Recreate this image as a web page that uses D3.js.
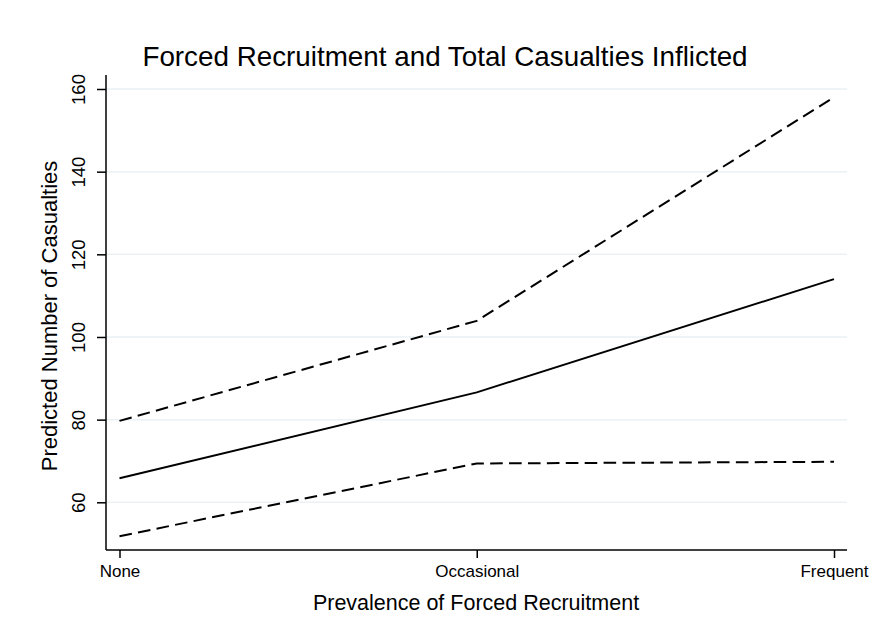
<!DOCTYPE html>
<html>
<head>
<meta charset="utf-8">
<script src="https://cdn.jsdelivr.net/npm/d3@7"></script>
<style>
  body { margin: 0; background: #fff; }
  svg { font-family: Arial, "Liberation Sans", sans-serif; }
</style>
</head>
<body>
<svg width="869" height="636"></svg>
<script>
var categories = ["None", "Occasional", "Frequent"];
var predicted = [65.8, 86.6, 114.0];
var upper = [79.7, 103.9, 158.0];
var lower = [51.8, 69.4, 69.8];
var yTicks = [60, 80, 100, 120, 140, 160];

var svg = d3.select("svg"),
    width = +svg.attr("width"),
    height = +svg.attr("height");

var plotLeft = 106, plotRight = 847, plotTop = 75, plotBottom = 550;

var x = d3.scalePoint()
    .domain(categories)
    .range([119.5, 834]);

var y = d3.scaleLinear()
    .domain([60, 160])
    .range([502.3, 89]);

// grid
svg.append("g")
  .selectAll("line")
  .data(yTicks)
  .enter().append("line")
    .attr("x1", plotLeft)
    .attr("x2", plotRight)
    .attr("y1", function(d) { return y(d); })
    .attr("y2", function(d) { return y(d); })
    .attr("stroke", "#eaf2f3")
    .attr("stroke-width", 1.5);

var line = d3.line()
    .x(function(d, i) { return x(categories[i]); })
    .y(function(d) { return y(d); });

svg.append("path").datum(upper)
    .attr("d", line).attr("fill", "none")
    .attr("stroke", "#000").attr("stroke-width", 2)
    .attr("stroke-dasharray", "12.6,6.3");
svg.append("path").datum(lower)
    .attr("d", line).attr("fill", "none")
    .attr("stroke", "#000").attr("stroke-width", 2)
    .attr("stroke-dasharray", "12.6,6.3");
svg.append("path").datum(predicted)
    .attr("d", line).attr("fill", "none")
    .attr("stroke", "#000").attr("stroke-width", 2);

// y axis
var yAxis = svg.append("g")
    .attr("transform", "translate(" + plotLeft + ",0)")
    .call(d3.axisLeft(y).tickValues(yTicks).tickSize(9).tickPadding(6));
yAxis.select(".domain").remove();
yAxis.append("line")
    .attr("x1", 0).attr("x2", 0)
    .attr("y1", plotTop).attr("y2", plotBottom)
    .attr("stroke", "#000").attr("stroke-width", 1.5);
yAxis.selectAll(".tick line").attr("stroke-width", 1.5);
yAxis.selectAll(".tick text")
    .style("font-size", "18.5px")
    .attr("fill", "#000")
    .attr("transform", "rotate(-90,-21,0)")
    .attr("x", -21)
    .attr("dy", "0")
    .attr("text-anchor", "middle");

// x axis
var xAxis = svg.append("g")
    .attr("transform", "translate(0," + plotBottom + ")")
    .call(d3.axisBottom(x).tickSize(8).tickPadding(7));
xAxis.select(".domain").remove();
xAxis.append("line")
    .attr("x1", plotLeft).attr("x2", plotRight)
    .attr("y1", 0).attr("y2", 0)
    .attr("stroke", "#000").attr("stroke-width", 1.5);
xAxis.selectAll(".tick line").attr("stroke-width", 1.5);
xAxis.selectAll(".tick text")
    .style("font-size", "17px")
    .attr("fill", "#000");

// titles
svg.append("text")
    .attr("x", 445).attr("y", 66)
    .attr("text-anchor", "middle")
    .style("font-size", "27.8px")
    .attr("fill", "#000")
    .text("Forced Recruitment and Total Casualties Inflicted");

svg.append("text")
    .attr("x", 476).attr("y", 610)
    .attr("text-anchor", "middle")
    .style("font-size", "21.5px")
    .attr("fill", "#000")
    .text("Prevalence of Forced Recruitment");

svg.append("text")
    .attr("transform", "translate(57,316) rotate(-90)")
    .attr("text-anchor", "middle")
    .style("font-size", "22px")
    .attr("fill", "#000")
    .text("Predicted Number of Casualties");
</script>
</body>
</html>
